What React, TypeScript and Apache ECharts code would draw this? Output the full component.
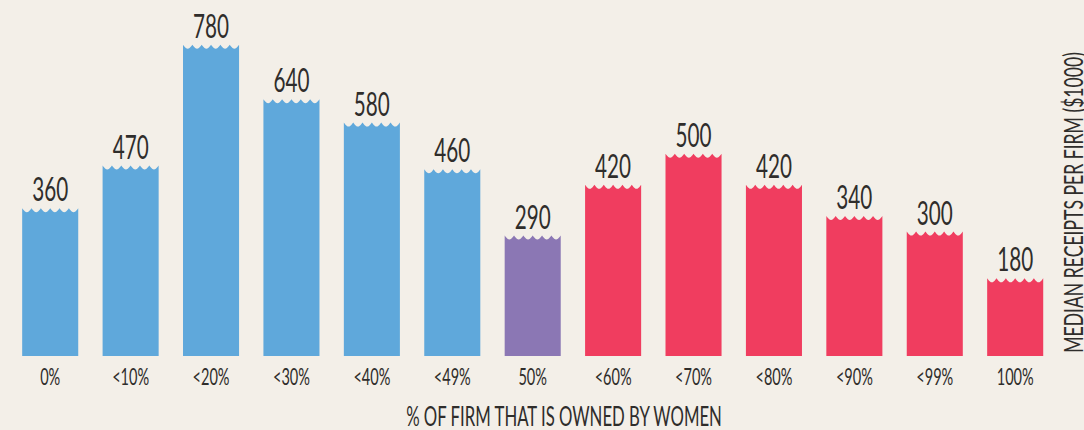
import React, { useEffect, useRef } from "react";
import * as echarts from "echarts";

const categories = ["0%", "<10%", "<20%", "<30%", "<40%", "<49%", "50%", "<60%", "<70%", "<80%", "<90%", "<99%", "100%"];
const values = [360, 470, 780, 640, 580, 460, 290, 420, 500, 420, 340, 300, 180];
const ownership = ["men", "men", "men", "men", "men", "men", "equal", "women", "women", "women", "women", "women", "women"];
const groupColors: Record<string, string> = { men: "#5fa8db", equal: "#8b77b4", women: "#f03d5f" };
const xTitle = "% OF FIRM THAT IS OWNED BY WOMEN";
const yTitle = "MEDIAN RECEIPTS PER FIRM ($1000)";

const FONT = "Lato";
const WEIGHT = 400;
const TEXT = "#2f2d2b";
const BG = "#f3efe8";
const Y_MIN = -19.5;
const Y_MAX = 780;

function measure(text: string, size: number): number {
  const ctx = document.createElement("canvas").getContext("2d")!;
  ctx.font = `${WEIGHT} ${size}px ${FONT}`;
  return ctx.measureText(text).width || 1;
}

export default function App() {
  const ref = useRef<HTMLDivElement>(null);
  useEffect(() => {
    const chart = echarts.init(ref.current!, undefined, { renderer: "svg" });
    const valSize = 33.5;
    const catSize = 23;
    const titleSize = 27;
    const vTitleSize = 26;
    const valScale = 36 / measure("780", valSize);
    const catScale = 37 / measure("<20%", catSize);
    const xTitleScale = 318 / measure(xTitle, titleSize);
    const yTitleScale = 301 / measure(yTitle, vTitleSize);
    const AMP = 4;
    const TEETH = 6;

    const renderItem = (params: any, api: any) => {
      const i = api.value(0);
      const v = api.value(1);
      const top = api.coord([i, v]);
      const bottom = api.coord([i, Y_MIN]);
      const w = api.size([1, 0])[0] * 0.697;
      const x0 = top[0] - w / 2;
      const peakY = top[1];
      const pts: number[][] = [[x0, bottom[1]], [x0, peakY]];
      for (let k = 0; k < TEETH; k++) {
        for (let j = 1; j <= 10; j++) {
          const t = j / 10;
          pts.push([x0 + ((k + t) * w) / TEETH, peakY + AMP * Math.sin(Math.PI * t)]);
        }
      }
      pts.push([x0 + w, bottom[1]]);
      const color = groupColors[ownership[i]];
      return {
        type: "group",
        children: [
          { type: "polygon", shape: { points: pts }, style: { fill: color } },
          {
            type: "text",
            x: top[0],
            y: peakY - 19.5,
            scaleX: valScale,
            style: {
              text: String(v),
              fill: TEXT,
              fontFamily: FONT,
              fontWeight: WEIGHT,
              fontSize: valSize,
              align: "center",
              verticalAlign: "middle",
            },
          },
          {
            type: "text",
            x: top[0],
            y: bottom[1] + 20,
            scaleX: catScale,
            style: {
              text: categories[i],
              fill: TEXT,
              fontFamily: FONT,
              fontWeight: WEIGHT,
              fontSize: catSize,
              align: "center",
              verticalAlign: "middle",
            },
          },
        ],
      };
    };

    chart.setOption({
      animation: false,
      backgroundColor: BG,
      grid: { left: 10, right: 28.6, top: 44.7, bottom: 74 },
      xAxis: { type: "category", data: categories, show: false },
      yAxis: { type: "value", min: Y_MIN, max: Y_MAX, show: false },
      series: [
        {
          type: "custom",
          renderItem,
          data: values.map((v, i) => [i, v]),
          clip: false,
        },
      ],
      graphic: [
        {
          type: "text",
          x: 564,
          y: 416,
          scaleX: xTitleScale,
          style: {
            text: xTitle,
            fill: TEXT,
            fontFamily: FONT,
            fontWeight: WEIGHT,
            fontSize: titleSize,
            align: "center",
            verticalAlign: "middle",
          },
        },
        {
          type: "text",
          x: 1073,
          y: 202.5,
          rotation: Math.PI / 2,
          scaleX: yTitleScale,
          style: {
            text: yTitle,
            fill: TEXT,
            fontFamily: FONT,
            fontWeight: WEIGHT,
            fontSize: vTitleSize,
            align: "center",
            verticalAlign: "middle",
          },
        },
      ],
    });
    return () => chart.dispose();
  }, []);
  return <div ref={ref} style={{ position: "fixed", left: 0, top: 0, width: 1084, height: 430 }} />;
}
